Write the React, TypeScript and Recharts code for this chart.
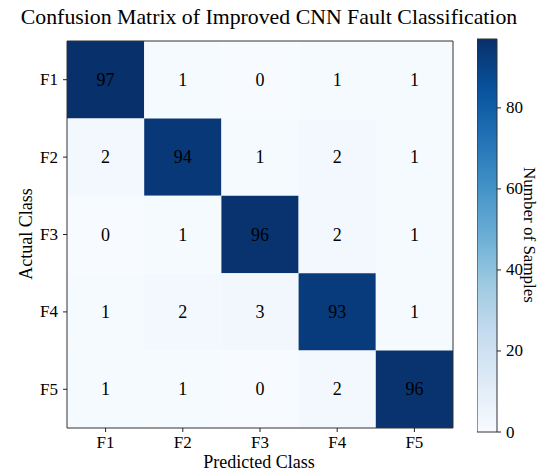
import React from 'react';
import {
  ScatterChart,
  Scatter,
  XAxis,
  YAxis,
  ReferenceArea,
  BarChart,
  Bar,
} from 'recharts';

const classes = ['F1', 'F2', 'F3', 'F4', 'F5'];

const rowF1 = [97, 1, 0, 1, 1];
const rowF2 = [2, 94, 1, 2, 1];
const rowF3 = [0, 1, 96, 2, 1];
const rowF4 = [1, 2, 3, 93, 1];
const rowF5 = [1, 1, 0, 2, 96];
const matrix = [rowF1, rowF2, rowF3, rowF4, rowF5];

const colorbarTicks = [0, 20, 40, 60, 80];

// matplotlib "Blues" anchor colours
const blues = [
  '#f7fbff', '#deebf7', '#c6dbef', '#9ecae1', '#6baed6',
  '#4292c6', '#2171b5', '#08519c', '#08306b',
];

const FONT = '"Liberation Serif", "Times New Roman", serif';

const hex = (h: string) => [1, 3, 5].map((i) => parseInt(h.slice(i, i + 2), 16));

const bluesAt = (t: number): string => {
  const s = Math.max(0, Math.min(1, t)) * (blues.length - 1);
  const i = Math.min(Math.floor(s), blues.length - 2);
  const f = s - i;
  const a = hex(blues[i]);
  const b = hex(blues[i + 1]);
  const c = a.map((v, k) => Math.round(v + (b[k] - v) * f));
  return `rgb(${c[0]},${c[1]},${c[2]})`;
};

const vmax = Math.max(...matrix.flat());

const cells = matrix.flatMap((row, r) =>
  row.map((v, c) => ({ x: c + 0.5, y: r + 0.5, r, c, v })),
);

const centers = [0.5, 1.5, 2.5, 3.5, 4.5];

const cellTxt = { fontFamily: FONT, fontSize: 18, fill: '#000' };
const tickTxt = { fontFamily: FONT, fontSize: 17, fill: '#000' };

const CellText = (props: any) => {
  const { cx, cy, payload } = props;
  return (
    <text x={cx} y={cy} textAnchor="middle" dominantBaseline="central" style={cellTxt}>
      {payload.v}
    </text>
  );
};

const XTick = (props: any) => {
  const { x, y, payload } = props;
  return (
    <text x={x} y={y + 14} textAnchor="middle" style={tickTxt}>
      {classes[Math.floor(payload.value)]}
    </text>
  );
};

const YTick = (props: any) => {
  const { x, y, payload } = props;
  return (
    <text x={x - 3} y={y} textAnchor="end" dominantBaseline="central" style={tickTxt}>
      {classes[Math.floor(payload.value)]}
    </text>
  );
};

const CbTick = (props: any) => {
  const { x, y, payload } = props;
  return (
    <text x={x + 3} y={y} textAnchor="start" dominantBaseline="central" style={tickTxt}>
      {payload.value}
    </text>
  );
};

export default function App() {
  return (
    <div style={{ position: 'absolute', left: 0, top: 0, width: 538, height: 472, background: '#fff', fontFamily: FONT }}>
      <div
        style={{
          position: 'absolute',
          left: 6,
          top: 5,
          width: 526,
          textAlign: 'center',
          fontSize: 21.8,
          color: '#000',
          whiteSpace: 'nowrap',
        }}
      >
        Confusion Matrix of Improved CNN Fault Classification
      </div>

      <div style={{ position: 'absolute', left: 0, top: 0 }}>
        <ScatterChart width={538} height={472} margin={{ top: 41, right: 85, left: 27, bottom: 14 }}>
          <XAxis
            type="number"
            dataKey="x"
            domain={[0, 5]}
            ticks={centers}
            tick={<XTick />}
            axisLine={false}
            tickLine={{ stroke: '#222' }}
            tickSize={4}
            height={30}
            interval={0}
          />
          <YAxis
            type="number"
            dataKey="y"
            domain={[0, 5]}
            reversed
            ticks={centers}
            tick={<YTick />}
            axisLine={false}
            tickLine={{ stroke: '#222' }}
            tickSize={4}
            width={40}
            interval={0}
          />
          {cells.map((d) => (
            <ReferenceArea
              key={`${d.r}-${d.c}`}
              x1={d.c}
              x2={d.c + 1}
              y1={d.r}
              y2={d.r + 1}
              fill={bluesAt(d.v / vmax)}
              fillOpacity={1}
              stroke="none"
            />
          ))}
          <ReferenceArea x1={0} x2={5} y1={0} y2={5} fill="none" stroke="#333" strokeWidth={1} />
          <Scatter data={cells} shape={CellText} isAnimationActive={false} />
        </ScatterChart>
      </div>

      <div style={{ position: 'absolute', left: 477, top: 0 }}>
        <BarChart
          width={61}
          height={472}
          data={[{ k: 'cb', v: vmax }]}
          margin={{ top: 39, right: 11, left: 0, bottom: 40 }}
          barCategoryGap={0}
        >
          <defs>
            <linearGradient id="bluesGrad" x1="0" y1="1" x2="0" y2="0">
              {blues.map((c, i) => (
                <stop key={c} offset={`${(i / (blues.length - 1)) * 100}%`} stopColor={c} />
              ))}
            </linearGradient>
          </defs>
          <XAxis dataKey="k" hide />
          <YAxis
            orientation="right"
            type="number"
            domain={[0, vmax]}
            ticks={colorbarTicks}
            tick={<CbTick />}
            axisLine={false}
            tickLine={{ stroke: '#222' }}
            tickSize={4}
            width={30}
            interval={0}
          />
          <Bar dataKey="v" fill="url(#bluesGrad)" stroke="#333" strokeWidth={1} isAnimationActive={false} />
        </BarChart>
      </div>

      <div
        style={{
          position: 'absolute',
          left: 259,
          top: 462,
          transform: 'translate(-50%, -50%)',
          whiteSpace: 'nowrap',
          fontSize: 18,
          color: '#000',
        }}
      >
        Predicted Class
      </div>

      <div
        style={{
          position: 'absolute',
          left: 26,
          top: 234,
          transform: 'translate(-50%, -50%) rotate(-90deg)',
          whiteSpace: 'nowrap',
          fontSize: 18,
          color: '#000',
        }}
      >
        Actual Class
      </div>

      <div
        style={{
          position: 'absolute',
          left: 529,
          top: 235,
          transform: 'translate(-50%, -50%) rotate(90deg)',
          whiteSpace: 'nowrap',
          fontSize: 17,
          lineHeight: '17px',
          color: '#000',
        }}
      >
        Number of Samples
      </div>
    </div>
  );
}
